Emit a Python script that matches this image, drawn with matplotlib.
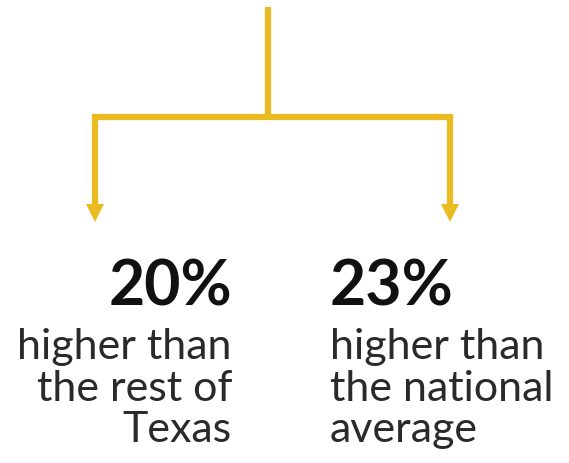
import matplotlib
matplotlib.use("Agg")
import matplotlib.pyplot as plt

# datos del diagrama
percents = [20, 23]
captions = ["higher than\nthe rest of\nTexas", "higher than\nthe national\naverage"]
branch_x = [95, 450]
text_x = [232, 330]
aligns = ["right", "left"]

yellow = "#EBBB22"

fig = plt.figure(figsize=(5.69, 4.64), dpi=100)
ax = fig.add_axes([0, 0, 1, 1])
ax.set_xlim(0, 569)
ax.set_ylim(464, 0)
ax.set_axis_off()

# tronco y rama horizontal
trunk_x = 268
bar_y = 118
ax.plot([trunk_x, trunk_x], [8, bar_y], color=yellow, lw=4.5, solid_capstyle="butt")
ax.plot([branch_x[0], branch_x[1]], [bar_y, bar_y], color=yellow, lw=4.5, solid_capstyle="projecting")

# flechas hacia abajo
for bx in branch_x:
    ax.plot([bx, bx], [bar_y, 212], color=yellow, lw=4.5, solid_capstyle="butt")
    ax.plot(bx, 214, marker="v", color=yellow, markersize=13, markeredgewidth=0)

# textos
for p, cap, tx, ha in zip(percents, captions, text_x, aligns):
    ax.text(tx, 306, f"{p}%", ha=ha, va="baseline", fontsize=45,
            fontweight="bold", family="Lato", color="#111111")
    ax.text(tx, 328, cap, ha=ha, va="top", fontsize=31, family="Lato",
            fontweight="normal", color="#2a2a2a", linespacing=1.12)

fig.savefig("out.png", dpi=100)
